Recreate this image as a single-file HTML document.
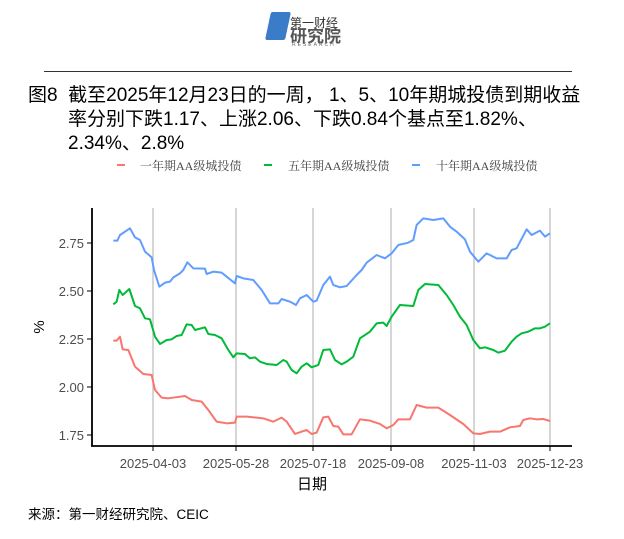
<!DOCTYPE html>
<html><head><meta charset="utf-8"><style>
body{margin:0;width:624px;height:539px;background:#fff;font-family:"Liberation Sans","Noto Sans CJK SC",sans-serif;position:relative;overflow:hidden}
.t{position:absolute;color:#000;font-size:19px;line-height:24px;white-space:nowrap}
</style></head><body>
<div style="position:absolute;left:268px;top:12px;width:20px;height:28px;background:#3a7cc8;transform:skewX(-12deg);border-radius:2px"></div>
<div style="position:absolute;left:290px;top:14px;font-size:12px;color:#333">第一财经</div>
<div style="position:absolute;left:290px;top:22px;font-size:17px;color:#555;font-weight:bold">研究院</div>
<div style="position:absolute;left:292px;top:42px;font-size:5px;color:#666;letter-spacing:2px">RESEARCH</div>
<div style="position:absolute;left:44px;top:71px;width:528px;border-top:1px solid #333"></div>
<div class="t" style="left:28px;top:84px">图8&nbsp; 截至2025年12月23日的一周， 1、5、10年期城投债到期收益</div>
<div class="t" style="left:68px;top:108px">率分别下跌1.17、上涨2.06、下跌0.84个基点至1.82%、</div>
<div class="t" style="left:68px;top:132px">2.34%、2.8%</div>
<svg width="624" height="539" style="position:absolute;left:0;top:0">
<g font-family="Liberation Serif,Noto Serif CJK SC,serif" font-size="12" fill="#444">
<line x1="117" y1="165" x2="125" y2="165" stroke="#f8766d" stroke-width="2"/><text x="140" y="170">一年期AA级城投债</text>
<line x1="264" y1="165" x2="272" y2="165" stroke="#00ba38" stroke-width="2"/><text x="288" y="170">五年期AA级城投债</text>
<line x1="412" y1="165" x2="420" y2="165" stroke="#619cff" stroke-width="2"/><text x="436" y="170">十年期AA级城投债</text>
</g>
<g stroke="#bbb" stroke-width="1.2">
<line x1="153" y1="208" x2="153" y2="445"/><line x1="236" y1="208" x2="236" y2="445"/><line x1="313" y1="208" x2="313" y2="445"/><line x1="391" y1="208" x2="391" y2="445"/><line x1="474" y1="208" x2="474" y2="445"/><line x1="550" y1="208" x2="550" y2="445"/>
</g>
<g stroke="#000" stroke-width="1.8" fill="none">
<line x1="92" y1="208" x2="92" y2="446"/><line x1="91" y1="446" x2="572" y2="446"/>
</g>
<g stroke="#000" stroke-width="1">
<line x1="87" y1="243" x2="92" y2="243"/><line x1="87" y1="291" x2="92" y2="291"/><line x1="87" y1="339" x2="92" y2="339"/><line x1="87" y1="387" x2="92" y2="387"/><line x1="87" y1="435" x2="92" y2="435"/>
<line x1="153" y1="446" x2="153" y2="451"/><line x1="236" y1="446" x2="236" y2="451"/><line x1="313" y1="446" x2="313" y2="451"/><line x1="391" y1="446" x2="391" y2="451"/><line x1="474" y1="446" x2="474" y2="451"/><line x1="550" y1="446" x2="550" y2="451"/>
</g>
<g font-family="Liberation Sans,sans-serif" font-size="13" fill="#4d4d4d" text-anchor="end">
<text x="84" y="248">2.75</text><text x="84" y="296">2.50</text><text x="84" y="344">2.25</text><text x="84" y="392">2.00</text><text x="84" y="440">1.75</text>
</g>
<g font-family="Liberation Sans,sans-serif" font-size="13" fill="#4d4d4d" text-anchor="middle">
<text x="153" y="468">2025-04-03</text><text x="236" y="468">2025-05-28</text><text x="313" y="468">2025-07-18</text><text x="391" y="468">2025-09-08</text><text x="474" y="468">2025-11-03</text><text x="550" y="468">2025-12-23</text>
</g>
<text x="312" y="489" font-family="Liberation Sans,Noto Sans CJK SC,sans-serif" font-size="15" text-anchor="middle" fill="#000">日期</text>
<text x="44" y="327" font-family="Liberation Sans,sans-serif" font-size="15" text-anchor="middle" fill="#000" transform="rotate(-90 44 327)">%</text>
<g transform="translate(80,270) scale(0.3333)" fill="none" stroke-width="6" stroke-linejoin="round">
<polyline stroke="#f8766d" points="100,212 110,212 120,200 128,238 145,240 165,290 190,312 215,315 225,360 245,383 265,385 315,378 335,390 365,395 385,420 410,455 440,460 465,458 470,440 500,440 550,445 580,455 605,443 620,455 645,492 680,480 695,492 710,488 730,442 745,440 760,468 775,470 790,493 815,493 840,448 870,452 900,462 920,475 940,465 955,448 990,448 1010,405 1040,413 1075,413 1110,435 1150,462 1180,490 1200,492 1230,485 1260,485 1290,472 1320,468 1330,450 1350,445 1370,448 1390,447 1410,453"/>
<polyline stroke="#00ba38" points="100,103 110,95 118,60 128,75 148,57 165,108 180,115 195,145 210,148 225,200 240,222 260,210 275,208 290,198 305,195 320,163 335,165 345,180 375,172 385,192 405,195 425,205 445,240 460,262 470,250 495,252 510,265 525,262 540,275 560,282 590,285 610,270 620,275 635,300 650,310 665,290 680,280 695,292 715,285 730,240 750,238 765,270 785,283 800,275 820,260 840,205 870,185 890,160 910,158 920,168 935,140 960,105 1000,108 1015,60 1035,42 1075,45 1100,75 1120,105 1140,140 1160,165 1180,210 1200,235 1215,232 1240,240 1255,248 1275,242 1295,215 1310,200 1325,190 1345,185 1365,175 1380,175 1395,170 1410,160"/>
<polyline stroke="#619cff" points="100,-88 112,-88 120,-105 150,-125 165,-98 180,-90 195,-55 215,-38 222,0 238,50 255,38 270,35 280,22 300,10 310,0 322,-23 340,-5 375,-4 380,12 400,5 425,8 465,40 470,18 490,25 520,30 545,60 570,100 595,100 605,87 630,95 648,105 660,85 680,75 700,95 710,92 730,45 750,20 760,45 780,52 800,48 830,15 845,0 860,-22 890,-45 915,-35 935,-50 955,-75 985,-82 1000,-90 1010,-135 1030,-155 1060,-150 1090,-155 1110,-130 1130,-115 1155,-92 1170,-55 1195,-25 1220,-50 1250,-35 1280,-35 1295,-60 1310,-65 1340,-122 1355,-105 1380,-118 1395,-100 1410,-110"/>
</g>
</svg>
<div style="position:absolute;left:28px;top:503px;font-size:13.5px;color:#000">来源：第一财经研究院、CEIC</div>
</body></html>
